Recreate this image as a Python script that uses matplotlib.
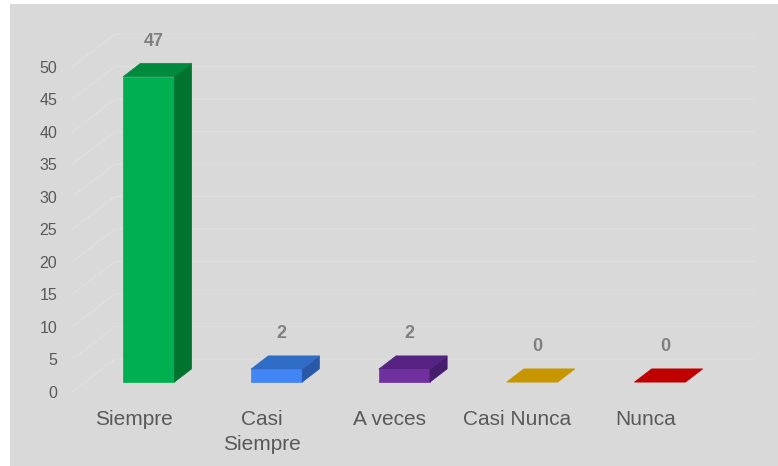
import matplotlib
matplotlib.use("Agg")
import matplotlib.pyplot as plt
from matplotlib.patches import Polygon, Rectangle

# ---- data ----
categories = ["Siempre", "Casi\nSiempre", "A veces", "Casi Nunca", "Nunca"]
values = [47, 2, 2, 0, 0]
yticks = [0, 5, 10, 15, 20, 25, 30, 35, 40, 45, 50]
front_colors = ["#00b050", "#4285f4", "#7030a0", "#c99700", "#c00000"]
top_colors = ["#008a3d", "#2f6cc6", "#562383", "#c79500", "#c00000"]
side_colors = ["#00732f", "#2958a8", "#461c6d", "#a67c00", "#a00000"]

plt.rcParams['font.family'] = ['Liberation Sans', 'DejaVu Sans']

W, H, DPI = 778, 466, 100
fig = plt.figure(figsize=(W / DPI, H / DPI), dpi=DPI, facecolor="white")

ax = fig.add_axes([0, 0, 1, 1])
ax.set_facecolor("none")
# gray chart area
ax.add_patch(Rectangle((10 / W, 0), 1 - 10 / W, (H - 4) / H,
                       transform=fig.transFigure, facecolor="#d9d9d9",
                       edgecolor="none", zorder=0))
px_x = 127.8   # pixels per category
px_y = 6.5     # pixels per unit
x0_px, y0_px = 72, 392
ax.set_xlim(-0.5 - x0_px / px_x, -0.5 + (W - x0_px) / px_x)
ax.set_ylim((y0_px - H) / px_y, y0_px / px_y)
ax.axis("off")

n = len(categories)
DX = 43 / px_x     # full depth offset in x
DY = 33 / px_y     # full depth offset in y
xl, xr = -0.5, n - 0.5
grid_c = "#dfdfdf"

# gridlines on side and back wall
for t in yticks:
    ax.plot([xl, xl + DX, xr + DX], [t, t + DY, t + DY], color=grid_c,
            lw=0.9, zorder=1, solid_capstyle="butt")

# tick labels
for t in yticks:
    ax.text(xl - 15 / px_x, t - 0.2, str(t), ha="right", va="center",
            fontsize=11.5, color="#595959")

# bars
bw = 0.40
f0, f1 = 0.30, 0.70
for i, (v, fc, tc, sc) in enumerate(zip(values, front_colors, top_colors, side_colors)):
    cx = i + f0 * DX
    by = f0 * DY
    l, r = cx - bw / 2, cx + bw / 2
    ddx, ddy = (f1 - f0) * DX, (f1 - f0) * DY
    top = by + v
    if v > 0:
        ax.add_patch(Polygon([(l, by), (r, by), (r, top), (l, top)], closed=True,
                             facecolor=fc, edgecolor=fc, lw=0.5, zorder=3))
        ax.add_patch(Polygon([(r, by), (r + ddx, by + ddy), (r + ddx, top + ddy), (r, top)],
                             closed=True, facecolor=sc, edgecolor=sc, lw=0.5, zorder=3))
    ax.add_patch(Polygon([(l, top), (r, top), (r + ddx, top + ddy), (l + ddx, top + ddy)],
                         closed=True, facecolor=tc, edgecolor=tc, lw=0.5, zorder=3))
    ax.text(cx + 0.04, top + ddy + 22 / px_y, str(v), ha="center", va="center",
            fontsize=13, fontweight="bold", color="#808080", zorder=4)

# category labels
for i, c in enumerate(categories):
    ax.text(i - 0.015, -18 / px_y, c, ha="center", va="top", fontsize=15,
            color="#595959", linespacing=1.38)

fig.savefig("out.png", dpi=DPI, facecolor="white")
